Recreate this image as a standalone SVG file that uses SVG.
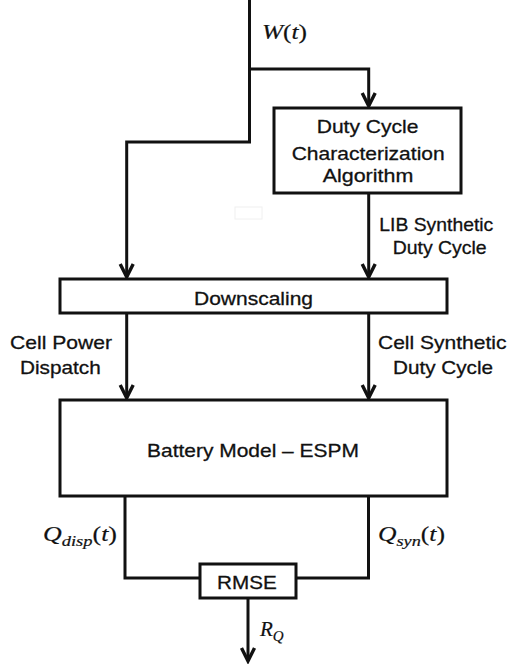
<svg xmlns="http://www.w3.org/2000/svg" width="507" height="664" viewBox="0 0 507 664">
<style>
.box{fill:#fff;stroke:#111;stroke-width:3}
.ln{fill:none;stroke:#111;stroke-width:3}
.t{font-family:"Liberation Sans",Arial,sans-serif;font-size:19px;fill:#111;stroke:#111;stroke-width:0.3}
.m{font-family:"Liberation Serif","Times New Roman",serif;font-size:21px;fill:#111;stroke:#111;stroke-width:0.2}
.i{font-style:italic}
</style>
<defs>
<marker id="ah" markerUnits="userSpaceOnUse" markerWidth="20" markerHeight="20" viewBox="-16 -10 20 20" refX="0" refY="0" orient="auto">
<path d="M-13,-6.5 L0,0 L-13,6.5" fill="none" stroke="#111" stroke-width="3.4"/>
</marker>
</defs>
<rect x="235" y="207" width="27" height="12" fill="none" stroke="#f0f0f0" stroke-width="1"/>
<g id="connectors">
<path class="ln" d="M249.5,0 V69 H368.7 V106" marker-end="url(#ah)"/>
<path class="ln" d="M249.5,69 V142 H126.7 V277" marker-end="url(#ah)"/>
<path class="ln" d="M368.7,194 V277" marker-end="url(#ah)"/>
<path class="ln" d="M126.7,314 V398" marker-end="url(#ah)"/>
<path class="ln" d="M368.7,314 V398" marker-end="url(#ah)"/>
<path class="ln" d="M125,497 V578 H200"/>
<path class="ln" d="M368.5,497 V578 H296"/>
<path class="ln" d="M248,599 V661" marker-end="url(#ah)"/>
</g>
<g id="duty">
<rect class="box" x="274" y="108" width="187" height="85"/>
<text class="t" x="316.7" y="133" textLength="101.7" lengthAdjust="spacingAndGlyphs">Duty Cycle</text>
<text class="t" x="291.7" y="159.5" textLength="153" lengthAdjust="spacingAndGlyphs">Characterization</text>
<text class="t" x="322.7" y="182" textLength="90.6" lengthAdjust="spacingAndGlyphs">Algorithm</text>
</g>
<g id="downscaling">
<rect class="box" x="60" y="279" width="387" height="34"/>
<text class="t" x="194" y="305" textLength="119" lengthAdjust="spacingAndGlyphs">Downscaling</text>
</g>
<g id="battery">
<rect class="box" x="60" y="400" width="387" height="96"/>
<text class="t" x="147" y="457" textLength="212" lengthAdjust="spacingAndGlyphs">Battery Model – ESPM</text>
</g>
<g id="rmse">
<rect class="box" x="200" y="564" width="96" height="34"/>
<text class="t" x="217" y="588.5" textLength="59.7" lengthAdjust="spacingAndGlyphs">RMSE</text>
</g>
<g id="labels">
<text class="m" x="262" y="39" textLength="45" lengthAdjust="spacingAndGlyphs"><tspan class="i">W</tspan>(<tspan class="i">t</tspan>)</text>
<text class="t" x="379.3" y="231" textLength="114" lengthAdjust="spacingAndGlyphs">LIB Synthetic</text>
<text class="t" x="392.7" y="254" textLength="94" lengthAdjust="spacingAndGlyphs">Duty Cycle</text>
<text class="t" x="10" y="349.3" textLength="102" lengthAdjust="spacingAndGlyphs">Cell Power</text>
<text class="t" x="20" y="374" textLength="80.7" lengthAdjust="spacingAndGlyphs">Dispatch</text>
<text class="t" x="378" y="349.3" textLength="128.5" lengthAdjust="spacingAndGlyphs">Cell Synthetic</text>
<text class="t" x="393" y="374" textLength="100" lengthAdjust="spacingAndGlyphs">Duty Cycle</text>
<text class="m" x="43" y="541" textLength="74" lengthAdjust="spacingAndGlyphs"><tspan class="i">Q</tspan><tspan class="i" font-size="15" dy="5">disp</tspan><tspan dy="-5">(</tspan><tspan class="i">t</tspan>)</text>
<text class="m" x="378" y="541" textLength="67" lengthAdjust="spacingAndGlyphs"><tspan class="i">Q</tspan><tspan class="i" font-size="15" dy="5">syn</tspan><tspan dy="-5">(</tspan><tspan class="i">t</tspan>)</text>
<text class="m" x="260" y="636"><tspan class="i">R</tspan><tspan class="i" font-size="15" dy="5">Q</tspan></text>
</g>
</svg>
